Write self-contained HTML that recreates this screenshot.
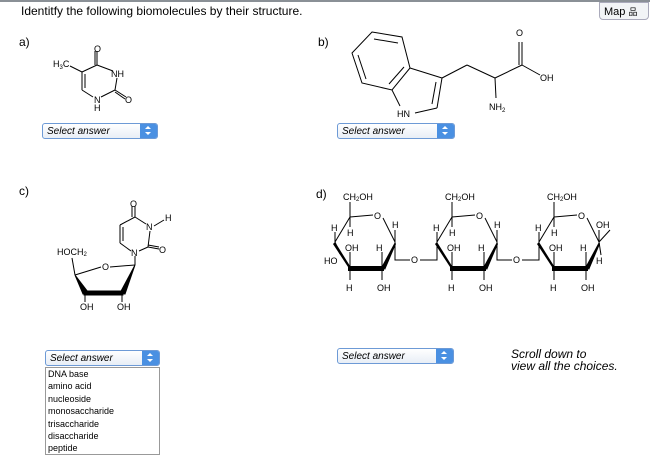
<!DOCTYPE html>
<html><head><style>
body{margin:0;width:650px;height:458px;background:#fff;overflow:hidden;font-family:"Liberation Sans",sans-serif;position:relative}
.t{position:absolute;font-size:12px;color:#000}
.sel{position:absolute;height:16px;border:1px solid #6d9ad6;border-radius:3px;background:linear-gradient(#fff,#e8eef6);font-size:10px;font-style:italic;box-sizing:border-box;padding:2px 0 0 4px}
.sel .ar{position:absolute;right:0;top:0;width:17px;height:100%;background:#4a90e2;border-radius:0 2px 2px 0}
.sel .ar:before{content:"";position:absolute;left:5px;top:2px;border:3px solid transparent;border-bottom:3px solid #fff;border-top:0}
.sel .ar:after{content:"";position:absolute;left:5px;top:8px;border:3px solid transparent;border-top:3px solid #fff;border-bottom:0}
.list{position:absolute;left:45px;top:367px;width:115px;height:88px;border:1px solid #999;box-sizing:border-box;font-size:9px;line-height:12.4px;padding-left:2px}
svg{position:absolute;left:0;top:0}
svg text{font-family:"Liberation Sans",sans-serif;font-size:9px}
</style></head><body>
<div style="position:absolute;left:0;top:0;width:650px;height:2px;background:#8a9096"></div>
<div class="t" style="left:21px;top:4px">Identitfy the following biomolecules by their structure.</div>
<div class="t" style="left:19px;top:35px">a)</div>
<div class="t" style="left:318px;top:35px">b)</div>
<div class="t" style="left:19px;top:184px">c)</div>
<div class="t" style="left:316px;top:187px">d)</div>
<div style="position:absolute;left:599px;top:2px;width:50px;height:18px;border:1px solid #aab;border-radius:0 0 4px 4px;background:#f2f4f6;box-sizing:border-box;font-size:11px;padding:2px 0 0 4px">Map <span style="font-size:9px">品</span></div>

<svg width="650" height="458" stroke="#000" stroke-width="1" fill="none">
<g>
<line x1="97" y1="65" x2="97" y2="51"/><line x1="95" y1="65" x2="95" y2="51"/>
<line x1="97" y1="65" x2="113" y2="71"/>
<line x1="117" y1="78" x2="115" y2="90"/>
<line x1="115" y1="90" x2="126" y2="97"/><line x1="115" y1="92" x2="125" y2="99"/>
<line x1="115" y1="90" x2="101" y2="97"/>
<line x1="93" y1="97" x2="82" y2="90"/>
<line x1="82" y1="90" x2="82" y2="72"/><line x1="85" y1="88" x2="85" y2="74"/>
<line x1="82" y1="72" x2="97" y2="65"/>
<line x1="70" y1="66" x2="82" y2="72"/>
</g>
<g stroke="none" fill="#000">
<text x="94" y="52" font-size="8">O</text>
<text x="111" y="77" font-size="8">NH</text>
<text x="125" y="103" font-size="8">O</text>
<text x="94" y="103" font-size="8">N</text>
<text x="94" y="111" font-size="8">H</text>
<text x="53" y="67" font-size="8">H<tspan font-size="6" dy="2">3</tspan><tspan dy="-2">C</tspan></text>
</g>
<g>
<polygon points="372,32 402,37 410,68 392,90 362,83 352,53"/>
<line x1="374" y1="39" x2="398" y2="43"/><line x1="404" y1="67" x2="389" y2="84"/><line x1="358" y1="55" x2="366" y2="79"/>
<line x1="410" y1="68" x2="442" y2="78"/>
<line x1="442" y1="78" x2="437" y2="108"/><line x1="436" y1="82" x2="432" y2="104"/>
<line x1="437" y1="108" x2="415" y2="113"/>
<line x1="392" y1="90" x2="400" y2="106"/>
<line x1="442" y1="78" x2="467" y2="65"/><line x1="467" y1="65" x2="495" y2="78"/>
<line x1="495" y1="78" x2="522" y2="65"/>
<line x1="522" y1="65" x2="522" y2="42"/><line x1="519" y1="65" x2="519" y2="42"/>
<line x1="522" y1="65" x2="540" y2="75"/>
<line x1="495" y1="78" x2="496" y2="98"/>
</g>
<g stroke="none" fill="#000">
<text x="516" y="36">O</text><text x="540" y="81">OH</text>
<text x="397" y="117">HN</text>
<text x="489" y="110">NH<tspan font-size="6" dy="2">2</tspan></text>
</g>
<g>
<line x1="135" y1="217" x2="135" y2="206"/><line x1="132" y1="217" x2="132" y2="206"/>
<line x1="135" y1="217" x2="146" y2="224"/>
<line x1="154" y1="226" x2="164" y2="220"/>
<line x1="150" y1="231" x2="148" y2="247"/>
<line x1="148" y1="247" x2="159" y2="249"/><line x1="148" y1="245" x2="159" y2="247"/>
<line x1="148" y1="247" x2="139" y2="251"/>
<line x1="131" y1="251" x2="120" y2="243"/>
<line x1="120" y1="243" x2="120" y2="225"/><line x1="123" y1="241" x2="123" y2="227"/>
<line x1="120" y1="225" x2="135" y2="217"/>
<line x1="135" y1="256" x2="135" y2="265"/>
<line x1="135" y1="265" x2="110" y2="267"/>
<line x1="101" y1="267" x2="75" y2="275"/>
<line x1="75" y1="275" x2="72" y2="258"/>
<line x1="85" y1="302" x2="85" y2="295"/><line x1="122" y1="302" x2="122" y2="295"/>
</g>
<polygon points="75,275 83,294 88,292" fill="#000"/>
<polygon points="84,291 123,291 123,295 84,295" fill="#000"/>
<polygon points="135,265 120,293 125,294" fill="#000"/>
<g stroke="none" fill="#000">
<text x="130" y="207" font-size="8">O</text>
<text x="146" y="230" font-size="8">N</text>
<text x="165" y="221" font-size="8">H</text>
<text x="159" y="253" font-size="8">O</text>
<text x="131" y="256" font-size="8">N</text>
<text x="102" y="270" font-size="8">O</text>
<text x="57" y="255" font-size="8">HOCH<tspan font-size="6" dy="1">2</tspan></text>
<text x="80" y="310" font-size="8">OH</text><text x="117" y="310" font-size="8">OH</text>
</g>
<defs>
<g id="ring">
<line x1="335" y1="242" x2="350" y2="217"/>
<line x1="350" y1="217" x2="373" y2="215"/>
<line x1="383" y1="218" x2="395" y2="242"/>
<line x1="350" y1="217" x2="350" y2="202"/>
<line x1="335" y1="242" x2="335" y2="232"/>
<line x1="350" y1="217" x2="350" y2="227"/>
<line x1="350" y1="268" x2="350" y2="252"/>
<line x1="350" y1="268" x2="350" y2="280"/>
<line x1="382" y1="268" x2="382" y2="252"/>
<line x1="382" y1="268" x2="382" y2="280"/>
<line x1="395" y1="242" x2="395" y2="230"/>
<polygon points="335,242 350,266 350,270 333,244" fill="#000" stroke="none"/>
<polygon points="348,266 384,266 384,271 348,271" fill="#000" stroke="none"/>
<polygon points="382,266 395,242 396,244 385,270" fill="#000" stroke="none"/>
</g>
</defs>
<use href="#ring"/><use href="#ring" x="102"/><use href="#ring" x="204"/>
<line x1="335" y1="242" x2="340" y2="254"/>
<polyline points="395,242 395,260 410,260"/><polyline points="420,260 437,260 437,242"/>
<polyline points="497,242 497,260 512,260"/><polyline points="522,260 539,260 539,242"/>
<line x1="599" y1="242" x2="610" y2="230"/><line x1="599" y1="242" x2="601" y2="255"/>
<g stroke="none" fill="#000">
<g id="lbl">
<text x="343" y="200" font-size="9">CH<tspan font-size="6" dy="1">2</tspan><tspan dy="-1">OH</tspan></text>
<text x="374" y="219" font-size="9">O</text>
<text x="331" y="231" font-size="9">H</text>
<text x="347" y="236" font-size="9">H</text>
<text x="345" y="251" font-size="9">OH</text>
<text x="376" y="251" font-size="9">H</text>
<text x="346" y="291" font-size="9">H</text>
<text x="377" y="291" font-size="9">OH</text>
</g>
<use href="#lbl" x="102"/><use href="#lbl" x="204"/>
<text x="392" y="228" font-size="9">H</text>
<text x="494" y="228" font-size="9">H</text>
<text x="596" y="228" font-size="9">OH</text>
<text x="596" y="264" font-size="9">H</text>
<text x="324" y="264" font-size="9">HO</text>
<text x="411" y="263" font-size="9">O</text>
<text x="513" y="263" font-size="9">O</text>
</g>
</svg>

<div class="sel" style="left:42px;top:123px;width:116px">Select answer<div class="ar"></div></div>
<div class="sel" style="left:337px;top:123px;width:118px">Select answer<div class="ar"></div></div>
<div class="sel" style="left:45px;top:350px;width:115px">Select answer<div class="ar"></div></div>
<div class="list">DNA base<br>amino acid<br>nucleoside<br>monosaccharide<br>trisaccharide<br>disaccharide<br>peptide</div>
<div class="sel" style="left:337px;top:348px;width:117px">Select answer<div class="ar"></div></div>
<div class="t" style="left:511px;top:348px;font-style:italic;font-size:12px;line-height:12px">Scroll down to<br>view all the choices.</div>
</body></html>
